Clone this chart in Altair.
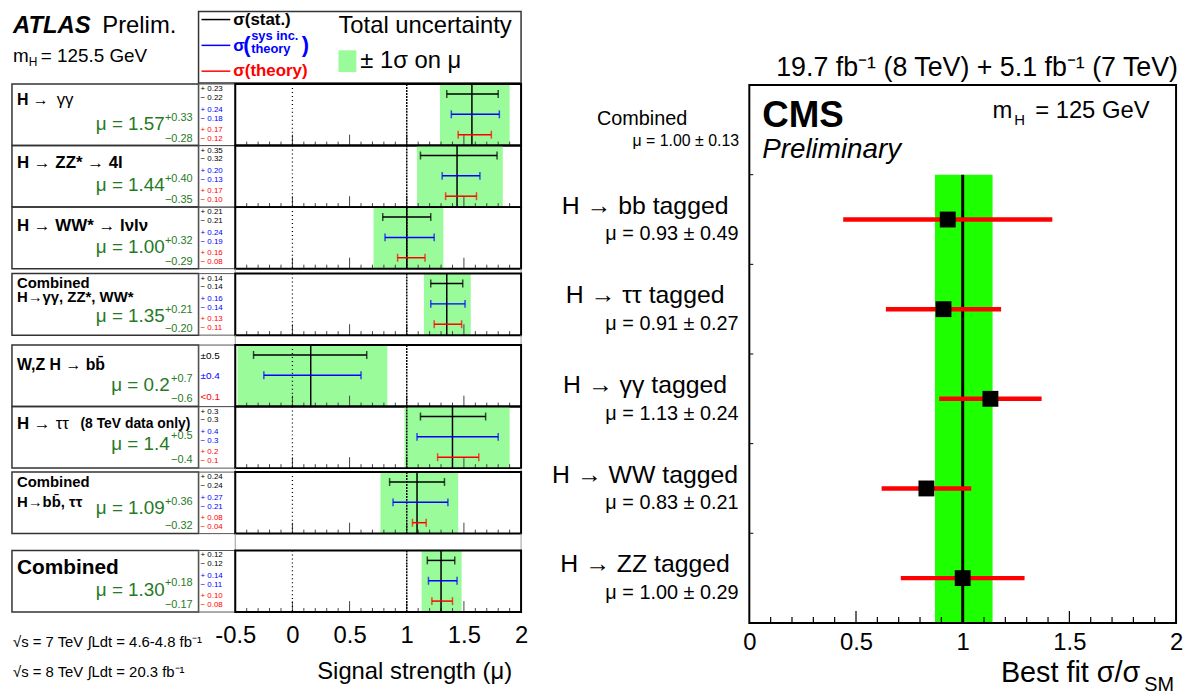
import altair as alt
import pandas as pd

FONT = "Liberation Sans"

# ======================= ATLAS panel values =======================
atlas_title_text = [
    ["H →", "γγ"],
    ["H → ZZ* → 4l"],
    ["H → WW* → lνlν"],
    ["Combined", "H→γγ, ZZ*, WW*"],
    ["W,Z H → bb\u0304"],
    ["H →", "ττ", "(8 TeV data only)"],
    ["Combined", "H→bb\u0304, ττ"],
    ["Combined"],
]
atlas_mu = [1.57, 1.44, 1.00, 1.35, 0.16, 1.40, 1.09, 1.30]
atlas_tot_dn = [0.28, 0.35, 0.29, 0.20, 0.64, 0.42, 0.32, 0.17]
atlas_tot_up = [0.33, 0.40, 0.32, 0.21, 0.67, 0.50, 0.36, 0.18]
atlas_stat_dn = [0.22, 0.32, 0.21, 0.14, 0.50, 0.28, 0.24, 0.12]
atlas_stat_up = [0.23, 0.35, 0.21, 0.14, 0.49, 0.29, 0.24, 0.12]
atlas_sys_dn = [0.18, 0.13, 0.19, 0.14, 0.41, 0.31, 0.21, 0.11]
atlas_sys_up = [0.24, 0.20, 0.24, 0.16, 0.44, 0.40, 0.27, 0.14]
atlas_th_dn = [0.12, 0.10, 0.08, 0.11, None, 0.13, 0.04, 0.08]
atlas_th_up = [0.17, 0.17, 0.16, 0.13, None, 0.23, 0.08, 0.10]
atlas_mu_text = ["1.57", "1.44", "1.00", "1.35", "0.2", "1.4", "1.09", "1.30"]
atlas_up_text = ["+0.33", "+0.40", "+0.32", "+0.21", "+0.7", "+0.5", "+0.36", "+0.18"]
atlas_dn_text = ["−0.28", "−0.35", "−0.29", "−0.20", "−0.6", "−0.4", "−0.32", "−0.17"]
atlas_num_text = [
    ["+ 0.23", "− 0.22", "+ 0.24", "− 0.18", "+ 0.17", "− 0.12"],
    ["+ 0.35", "− 0.32", "+ 0.20", "− 0.13", "+ 0.17", "− 0.10"],
    ["+ 0.21", "− 0.21", "+ 0.24", "− 0.19", "+ 0.16", "− 0.08"],
    ["+ 0.14", "− 0.14", "+ 0.16", "− 0.14", "+ 0.13", "− 0.11"],
    ["±0.5", "±0.4", "<0.1"],
    ["+ 0.3", "− 0.3", "+ 0.4", "− 0.3", "+ 0.2", "− 0.1"],
    ["+ 0.24", "− 0.24", "+ 0.27", "− 0.21", "+ 0.08", "− 0.04"],
    ["+ 0.12", "− 0.12", "+ 0.14", "− 0.11", "+ 0.10", "− 0.08"],
]
atlas_tick_labels = [-0.5, 0, 0.5, 1, 1.5, 2]
atlas_major_ticks = [0, 0.5, 1, 1.5]
atlas_minor_ticks = [-0.4, -0.3, -0.2, -0.1, 0.1, 0.2, 0.3, 0.4, 0.6, 0.7, 0.8, 0.9,
                     1.1, 1.2, 1.3, 1.4, 1.6, 1.7, 1.8, 1.9]
atlas_sm_line = [1.0]
atlas_zero_line = [0.0]
atlas_footer = ["√s = 7 TeV ∫Ldt = 4.6-4.8 fb⁻¹", "√s = 8 TeV ∫Ldt = 20.3 fb⁻¹"]
atlas_xtitle = "Signal strength (μ)"

# ======================= CMS panel values =======================
cms_channels = ["H → bb tagged", "H → ττ tagged", "H → γγ  tagged", "H → WW tagged", "H → ZZ tagged"]
cms_mu = [0.93, 0.91, 1.13, 0.83, 1.00]
cms_err = [0.49, 0.27, 0.24, 0.21, 0.29]
cms_comb_mu = 1.00
cms_comb_dn = 0.13
cms_comb_up = 0.14
cms_comb_text = "μ = 1.00 ± 0.13"
cms_tick_labels = [0, 0.5, 1, 1.5, 2]
cms_major_ticks = [0.5, 1.0, 1.5]
cms_minor_ticks = [0.1, 0.2, 0.3, 0.4, 0.6, 0.7, 0.8, 0.9, 1.1, 1.2, 1.3, 1.4, 1.6, 1.7, 1.8, 1.9]
cms_lumi = "19.7 fb⁻¹ (8 TeV) +  5.1 fb⁻¹ (7 TeV)"

# ======================= styles / layout =======================
GREEN_A = "#99fb99"
GREEN_C = "#1eff00"
MU_GREEN = "#267a26"
BLUE = "#0000ff"
RED = "#ff0000"

ONE = pd.DataFrame({"k": [0]})


def txt(s, x, y, size, color="black", weight="normal", align="left", style="normal"):
    return alt.Chart(ONE).mark_text(
        text=s, font=FONT, fontSize=size, color=color, fontWeight=weight,
        fontStyle=style, align=align, baseline="middle"
    ).encode(x=alt.value(x), y=alt.value(y))


def box(x1, x2, y1, y2, stroke="black", sw=1.0):
    return alt.Chart(ONE).mark_rect(fillOpacity=0, stroke=stroke, strokeWidth=sw).encode(
        x=alt.value(x1), x2=alt.value(x2), y=alt.value(y1), y2=alt.value(y2))


def fillbox(x1, x2, y1, y2, fill):
    return alt.Chart(ONE).mark_rect(color=fill).encode(
        x=alt.value(x1), x2=alt.value(x2), y=alt.value(y1), y2=alt.value(y2))


def hline(x1, x2, y, color, sw):
    return alt.Chart(ONE).mark_rule(color=color, strokeWidth=sw).encode(
        x=alt.value(x1), x2=alt.value(x2), y=alt.value(y))


def vline(x, y1, y2, color, sw):
    return alt.Chart(ONE).mark_rule(color=color, strokeWidth=sw).encode(
        x=alt.value(x), y=alt.value(y1), y2=alt.value(y2))


RH = 62      # row height
PW = 288     # ATLAS plot width
LBX = -225   # label box left
NBX = -37    # number box left

XS = alt.Scale(domain=[-0.5, 2.0], nice=False, zero=False)
KIND = ["stat", "sys", "theory"]
KY = alt.Scale(type="point", domain=KIND, range=[10, 51], padding=0)
KC = alt.Scale(domain=KIND, range=["black", BLUE, RED])

title_layout = [
    [(5, 16, 16, "bold"), (45, 16, 17, "normal")],
    [(5, 18, 17, "bold")],
    [(5, 19, 17, "bold")],
    [(5, 9, 15, "bold"), (5, 24, 15, "bold")],
    [(5, 20, 16, "bold")],
    [(5, 18, 17, "bold"), (44, 18, 17, "normal"), (69, 18, 14, "bold")],
    [(5, 10, 15, "bold"), (5, 30, 15, "bold")],
    [(5, 18, 21, "bold")],
]
mu_layout = [(-71, 40, 34, 55), (-71, 40, 34, 55), (-71, 40, 34, 55), (-71, 43, 37, 56),
             (-66, 40, 34, 54), (-66, 38, 30, 54), (-71, 36, 30, 54), (-71, 40, 33, 55)]
num_y6 = [5, 14, 26, 35, 46, 55]
num_c6 = ["black", "black", BLUE, BLUE, RED, RED]
num_y3 = [11, 31, 52]
num_c3 = ["black", BLUE, RED]


def atlas_row(i, last):
    if last:
        ax = alt.Axis(values=atlas_tick_labels, labelExpr="'' + datum.value", labelFontSize=24,
                      labelFont=FONT, labelColor="black", ticks=False, tickSize=0, domain=False,
                      grid=False, labelPadding=12, labelFlush=False, title=None)
    else:
        ax = None

    def X(f):
        return alt.X(f"{f}:Q", scale=XS, axis=ax)

    mu = atlas_mu[i]
    tot = pd.DataFrame({"mu": [mu], "lo": [mu - atlas_tot_dn[i]], "hi": [mu + atlas_tot_up[i]]})
    kinds, los, his = [], [], []
    for k, dn, up in zip(KIND, [atlas_stat_dn[i], atlas_sys_dn[i], atlas_th_dn[i]],
                         [atlas_stat_up[i], atlas_sys_up[i], atlas_th_up[i]]):
        if dn is None:
            continue
        kinds.append(k)
        los.append(mu - dn)
        his.append(mu + up)
    bars = pd.DataFrame({"kind": kinds, "lo": los, "hi": his})

    L = []
    L.append(box(LBX, NBX, 0, RH, "#333333", 1.5))
    L.append(box(NBX, 0, 0, RH, "#555555", 1.0))
    L.append(alt.Chart(tot).mark_rect(color=GREEN_A).encode(
        x=X("lo"), x2="hi", y=alt.value(0), y2=alt.value(RH)))
    L.append(alt.Chart(pd.DataFrame({"v": atlas_minor_ticks})).mark_rule(color="#444444", strokeWidth=1).encode(
        x=X("v"), y=alt.value(RH), y2=alt.value(RH - 4)))
    L.append(alt.Chart(pd.DataFrame({"v": atlas_major_ticks})).mark_rule(color="#444444", strokeWidth=1).encode(
        x=X("v"), y=alt.value(RH), y2=alt.value(RH - 11)))
    L.append(alt.Chart(pd.DataFrame({"v": atlas_zero_line})).mark_rule(color="black", strokeWidth=1.3, strokeDash=[1, 3]).encode(
        x=X("v"), y=alt.value(0), y2=alt.value(RH)))
    L.append(alt.Chart(pd.DataFrame({"v": atlas_sm_line})).mark_rule(color="black", strokeWidth=1.5, strokeDash=[2, 1]).encode(
        x=X("v"), y=alt.value(0), y2=alt.value(RH)))
    L.append(alt.Chart(tot).mark_rule(color="black", strokeWidth=1.5).encode(
        x=X("mu"), y=alt.value(0), y2=alt.value(RH)))
    yk = alt.Y("kind:N", scale=KY, axis=None)
    ck = alt.Color("kind:N", scale=KC, legend=None)
    L.append(alt.Chart(bars).mark_rule(strokeWidth=1.5).encode(x=X("lo"), x2="hi", y=yk, color=ck))
    L.append(alt.Chart(bars).mark_tick(size=8, thickness=1.5).encode(x=X("lo"), y=yk, color=ck))
    L.append(alt.Chart(bars).mark_tick(size=8, thickness=1.5).encode(x=X("hi"), y=yk, color=ck))
    L.append(box(0, PW, 0, RH, "black", 2))

    # channel titles
    for s, (xl, yl, sz, wt) in zip(atlas_title_text[i], title_layout[i]):
        L.append(txt(s, LBX + xl, yl, sz, weight=wt))
    # signal strength text
    xr, yc, ys, yd = mu_layout[i]
    L.append(txt("μ = " + atlas_mu_text[i], xr, yc, 19, MU_GREEN, align="right"))
    L.append(txt(atlas_up_text[i], -43, ys, 11, MU_GREEN, align="right"))
    L.append(txt(atlas_dn_text[i], -43, yd, 11, MU_GREEN, align="right"))
    # numbers column
    nums = atlas_num_text[i]
    if len(nums) == 6:
        for s, y, c in zip(nums, num_y6, num_c6):
            L.append(txt(s, NBX + 2, y, 8, c))
    else:
        for s, y, c in zip(nums, num_y3, num_c3):
            L.append(txt(s, NBX + 2, y, 10, c))
    if last:
        L.append(txt(atlas_footer[0], LBX + 1, 92, 15))
        L.append(txt(atlas_footer[1], LBX + 1, 122, 15))
        L.append(txt(atlas_xtitle, 279, 122, 24, align="right"))
    return alt.layer(*L).properties(width=PW, height=RH)


def spacer(h):
    return alt.layer(vline(0, 0, h, "#999999", 1), vline(PW, 0, h, "#999999", 1)).properties(width=PW, height=h)


atlas_hdr = alt.layer(
    txt("ATLAS", -224, 15, 24, weight="bold", style="italic"),
    txt("Prelim.", -134, 15, 24),
    txt("m", -224, 45, 19),
    txt("H", -208, 51, 12),
    txt("= 125.5 GeV", -196, 45, 19),
    box(NBX, PW, 0, 72, "#333333", 1.5),
    hline(-34, -5, 8, "black", 1.5),
    txt("σ(stat.)", -2, 8, 17, weight="bold"),
    hline(-34, -5, 34, BLUE, 1.5),
    txt("σ", -2, 35, 17, BLUE, "bold"),
    txt("(", 8, 34, 22, BLUE, "bold"),
    txt("sys inc.", 16, 25, 13, BLUE, "bold"),
    txt("theory", 16, 38, 13, BLUE, "bold"),
    txt(")", 67, 34, 22, BLUE, "bold"),
    hline(-34, -5, 60, RED, 1.5),
    txt("σ(theory)", -2, 60, 17, RED, "bold"),
    txt("Total uncertainty", 104, 15, 24),
    fillbox(104, 122, 39, 61, GREEN_A),
    txt("± 1σ on μ", 126, 50, 24),
).properties(width=PW, height=73)

rows = [atlas_row(i, i == 7) for i in range(8)]
atlas_col = alt.vconcat(
    atlas_hdr, rows[0], rows[1], rows[2], spacer(5), rows[3], spacer(10),
    rows[4], rows[5], spacer(4), rows[6], spacer(17), rows[7],
    spacing=0, bounds="flush")

# ======================= CMS panel =======================
CW, CH = 430, 542
XC = alt.Scale(domain=[0, 2], nice=False, zero=False)
YC = alt.Scale(domain=[0, len(cms_channels) + 1], reverse=True, nice=False, zero=False)
cax = alt.Axis(values=cms_tick_labels, labelExpr="'' + datum.value", labelFontSize=24,
               labelFont=FONT, labelColor="black", ticks=False, tickSize=0, domain=False,
               grid=False, labelPadding=8, labelFlush=False, title=None)


def XCf(f):
    return alt.X(f"{f}:Q", scale=XC, axis=cax)


def YCf(f):
    return alt.Y(f"{f}:Q", scale=YC, axis=None)


cms = pd.DataFrame({"channel": cms_channels, "mu": cms_mu, "err": cms_err})
cms["slot"] = list(range(1, len(cms_channels) + 1))
cms["pos"] = cms["slot"] + 0.5
cms["lo"] = cms["mu"] - cms["err"]
cms["hi"] = cms["mu"] + cms["err"]
cms["label"] = [f"μ = {m:.2f} ± {e:.2f}" for m, e in zip(cms_mu, cms_err)]
comb = pd.DataFrame({"mu": [cms_comb_mu], "lo": [cms_comb_mu - cms_comb_dn],
                     "hi": [cms_comb_mu + cms_comb_up],
                     "y0": [1], "y1": [len(cms_channels) + 1]})
row_edges = pd.DataFrame({"b": list(range(1, len(cms_channels) + 1))})

cms_plot = alt.layer(
    alt.Chart(comb).mark_rect(color=GREEN_C).encode(x=XCf("lo"), x2="hi", y=YCf("y0"), y2="y1"),
    alt.Chart(pd.DataFrame({"v": cms_minor_ticks})).mark_rule(color="black", strokeWidth=1.2).encode(
        x=XCf("v"), y=alt.value(CH), y2=alt.value(CH - 6)),
    alt.Chart(pd.DataFrame({"v": cms_major_ticks})).mark_rule(color="black", strokeWidth=1.2).encode(
        x=XCf("v"), y=alt.value(CH), y2=alt.value(CH - 12)),
    alt.Chart(row_edges).mark_rule(color="black", strokeWidth=1).encode(
        x=alt.value(0), x2=alt.value(4), y=YCf("b")),
    alt.Chart(comb).mark_rule(color="black", strokeWidth=3).encode(x=XCf("mu"), y=YCf("y0"), y2="y1"),
    alt.Chart(cms).mark_rule(color=RED, strokeWidth=4.5).encode(x=XCf("lo"), x2="hi", y=YCf("pos")),
    alt.Chart(cms).mark_square(size=256, color="black", opacity=1).encode(x=XCf("mu"), y=YCf("pos")),
    alt.Chart(cms).mark_text(font=FONT, fontSize=25, align="center", baseline="middle", dy=-14).encode(
        x=alt.value(-105), y=YCf("pos"), text="channel:N"),
    alt.Chart(cms).mark_text(font=FONT, fontSize=20, align="center", baseline="middle", dy=15).encode(
        x=alt.value(-78), y=YCf("pos"), text="label:N"),
    txt("Combined", -108, 34, 20, align="center"),
    txt(cms_comb_text, -64, 56, 16, align="center"),
    txt("CMS", 13, 31, 37, weight="bold"),
    txt("Preliminary", 13, 66, 28, style="italic"),
    txt("m", 245, 26, 24),
    txt("H", 267, 35, 15),
    txt("= 125 GeV", 288, 26, 24),
    txt("Best fit σ/σ", 394, 593, 29, align="right"),
    txt("SM", 398, 605, 20),
    box(0, CW, 0, CH, "black", 2),
).properties(width=CW, height=CH)

cms_hdr = alt.layer(txt(cms_lumi, 432, 57, 27, align="right")).properties(width=CW, height=74)

cms_col = alt.vconcat(cms_hdr, cms_plot, spacing=0, bounds="flush")

chart = alt.hconcat(atlas_col, cms_col, spacing=24).properties(
    padding={"left": 3, "top": 0, "right": 0, "bottom": 0}).configure(
    font=FONT).configure_view(stroke=None)

chart.save("out.html", embed_options={"renderer": "svg", "actions": False})
